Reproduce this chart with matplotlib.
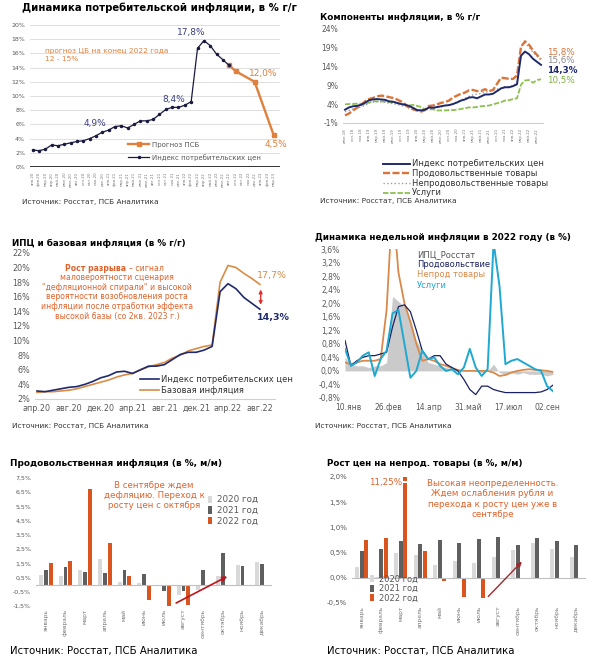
import numpy as np
import pandas as pd
import matplotlib
matplotlib.use('Agg')
import matplotlib.pyplot as plt

plt.rcParams['font.family'] = ['DejaVu Sans']

W, H = 600, 665
NAVY = '#1f2a6e'
ORANGE = '#e0803c'
RED_TXT = '#e0622a'
GRAY_TXT = '#595959'

mon = ['янв', 'фев', 'мар', 'апр', 'май', 'июн', 'июл', 'авг', 'сен', 'окт', 'ноя', 'дек']
months_full = ['январь', 'февраль', 'март', 'апрель', 'май', 'июнь', 'июль',
               'август', 'сентябрь', 'октябрь', 'ноябрь', 'декабрь']

# --- panel 1: CPI y/y with forecast (янв.20 - мар.23)
p1_labels = [f'{mon[m % 12]}.{20 + m // 12}' for m in range(39)]
p1_cpi = [2.4, 2.3, 2.5, 3.1, 3.0, 3.2, 3.4, 3.6, 3.7, 4.0, 4.4, 4.9,
          5.2, 5.7, 5.8, 5.5, 6.0, 6.5, 6.5, 6.7, 7.4, 8.1, 8.4, 8.4,
          8.7, 9.2, 16.7, 17.8, 17.1, 15.9, 15.1, 14.3]
p1_fc_months = ['авг.22', 'сен.22', 'дек.22', 'мар.23']
p1_fc = [14.3, 13.5, 12.0, 4.5]

# --- panel 2: components y/y (июл.18 - авг.22)
p2_labels = [f'{mon[(m + 6) % 12]}.{18 + (m + 6) // 12}' for m in range(50)]
p2_cpi = [2.5, 3.1, 3.4, 3.5, 3.8, 4.3,
          5.0, 5.2, 5.3, 5.2, 5.1, 4.7, 4.6, 4.3, 4.0, 3.8, 3.5, 3.0,
          2.4, 2.3, 2.5, 3.1, 3.0, 3.2, 3.4, 3.6, 3.7, 4.0, 4.4, 4.9,
          5.2, 5.7, 5.8, 5.5, 6.0, 6.5, 6.5, 6.7, 7.4, 8.1, 8.4, 8.4,
          8.7, 9.2, 16.7, 17.8, 17.1, 15.9, 15.1, 14.3]
p2_food = [1.0, 1.5, 2.3, 3.0, 3.7, 4.7,
           5.3, 5.6, 6.0, 6.2, 6.1, 5.8, 5.6, 5.2, 4.7, 4.0, 3.0, 2.6,
           2.3, 2.0, 2.4, 3.5, 3.6, 3.9, 4.3, 4.5, 4.9, 5.7, 6.2, 6.7,
           7.0, 7.6, 7.7, 7.4, 7.4, 7.9, 7.4, 7.7, 9.3, 10.9, 10.8, 10.6,
           10.6, 11.5, 19.0, 20.5, 19.6, 18.1, 16.9, 15.8]
p2_nonfood = [2.0, 2.3, 2.7, 3.0, 3.3, 3.6,
              4.3, 4.5, 4.6, 4.6, 4.5, 4.2, 4.1, 3.9, 3.6, 3.4, 3.2, 3.0,
              2.5, 2.5, 2.6, 2.9, 2.8, 3.0, 3.2, 3.6, 3.8, 4.0, 4.6, 5.0,
              5.5, 6.0, 6.4, 6.6, 6.8, 7.1, 7.3, 7.6, 7.9, 8.1, 8.6, 8.6,
              8.8, 9.5, 19.2, 20.0, 19.0, 17.6, 16.6, 15.6]
p2_serv = [3.9, 4.0, 4.0, 4.1, 4.1, 3.9,
           4.4, 4.7, 4.7, 4.7, 4.6, 4.5, 4.4, 4.2, 4.0, 3.8, 3.6, 3.8,
           3.5, 3.2, 2.6, 2.6, 2.6, 2.3, 2.3, 2.3, 2.4, 2.4, 2.5, 2.7,
           2.9, 3.1, 3.1, 3.2, 3.4, 3.5, 3.6, 3.9, 4.2, 4.5, 4.9, 5.0,
           5.3, 5.5, 9.1, 10.2, 10.3, 9.6, 10.3, 10.5]

# --- panel 3: CPI vs core (апр.20 - авг.22)
p3_labels = [f'{mon[(m + 3) % 12]}.{20 + (m + 3) // 12}' for m in range(29)]
p3_cpi = [3.1, 3.0, 3.2, 3.4, 3.6, 3.7, 4.0, 4.4, 4.9,
          5.2, 5.7, 5.8, 5.5, 6.0, 6.5, 6.5, 6.7, 7.4, 8.1, 8.4, 8.4,
          8.7, 9.2, 16.7, 17.8, 17.1, 15.9, 15.1, 14.3]
p3_core = [2.9, 3.0, 3.0, 3.1, 3.2, 3.4, 3.7, 4.0, 4.3,
           4.6, 5.0, 5.3, 5.5, 6.0, 6.4, 6.7, 7.0, 7.6, 8.0, 8.6, 8.9,
           9.2, 9.4, 18.0, 20.3, 20.0, 19.2, 18.5, 17.7]
p3_note = ['маловероятности сценария', '"дефляционной спирали" и высокой',
           'вероятности возобновления роста', 'инфляции после отработки эффекта',
           'высокой базы (со 2кв. 2023 г.)']

# --- panel 4: weekly inflation 2022
p4_dates = pd.date_range('2022-01-06', periods=36, freq='7D')
p4_cpi = [0.4, 0.2, 0.15, 0.15, 0.1, 0.15, 0.15, 0.25, 2.2, 2.05, 1.9, 1.5,
          0.9, 0.6, 0.25, 0.2, 0.15, 0.1, 0.05, 0.05, 0.0, 0.0, 0.0, -0.05,
          0.0, 0.2, -0.05, -0.1, -0.05, -0.1, -0.05, -0.1, -0.1, -0.1, -0.15, -0.1]
p4_food = [0.9, 0.15, 0.3, 0.4, 0.45, 0.45, 0.5, 0.55, 1.3, 1.9, 1.95, 1.75,
           1.2, 0.6, 0.35, 0.45, 0.45, 0.2, 0.1, 0.0, -0.25, -0.55, -0.7, -0.45,
           -0.45, -0.55, -0.6, -0.64, -0.64, -0.64, -0.64, -0.64, -0.64, -0.62, -0.55, -0.42]
p4_nonfood = [0.25, 0.2, 0.25, 0.3, 0.3, 0.3, 0.35, 1.8, 5.0, 2.9, 2.0, 1.45,
              0.8, 0.3, 0.35, 0.3, 0.2, 0.15, 0.08, 0.03, 0.0, 0.0, 0.0, 0.0,
              0.0, -0.05, -0.15, -0.12, -0.05, 0.0, 0.03, 0.05, 0.03, 0.02, 0.0, -0.03]
p4_serv = [0.65, 0.15, 0.25, 0.45, 0.55, -0.15, 0.35, 0.6, 1.7, 1.8, 0.8, -0.2,
           0.0, 0.6, 0.35, 0.4, 0.15, 0.0, 0.05, -0.1, 0.1, 0.65, 0.1, -0.15,
           0.05, 3.8, 2.5, 0.2, 0.3, 0.35, 0.25, 0.15, 0.05, 0.0, -0.45, -0.6]
p4_ticks = ['2022-01-10', '2022-02-26', '2022-04-14', '2022-05-31', '2022-07-17', '2022-09-02']
p4_ticklabels = ['10.янв', '26.фев', '14.апр', '31.май', '17.июл', '02.сен']

# --- panel 5: food m/m
p5_2020 = [0.7, 0.6, 1.0, 1.8, 0.2, 0.1, 0.0, -0.7, -0.4, 0.6, 1.4, 1.6]
p5_2021 = [1.0, 1.25, 0.9, 0.8, 1.0, 0.75, -0.45, -0.45, 1.0, 2.25, 1.3, 1.45]
p5_2022 = [1.5, 1.65, 6.7, 2.95, 0.6, -1.1, -1.5, -1.4, np.nan, np.nan, np.nan, np.nan]

# --- panel 6: non-food m/m
p6_2020 = [0.22, 0.02, 0.5, 0.45, 0.26, 0.34, 0.3, 0.42, 0.55, 0.69, 0.57, 0.41]
p6_2021 = [0.54, 0.57, 0.73, 0.67, 0.75, 0.69, 0.77, 0.81, 0.65, 0.79, 0.73, 0.65]
p6_2022 = [0.75, 0.79, 11.25, 0.53, -0.06, -0.39, -0.41, np.nan, np.nan, np.nan, np.nan, np.nan]

years = ['2020 год', '2021 год', '2022 год']
bar_colors = ['#d9d9d9', '#5f5f5f', '#d9541e']

fig = plt.figure(figsize=(6, 6.65), dpi=100)


def add_ax(l, t, r, b):
    ax = fig.add_axes([l / W, 1 - b / H, (r - l) / W, (b - t) / H])
    for s in ax.spines.values():
        s.set_visible(False)
    ax.tick_params(length=0, labelsize=5, labelcolor=GRAY_TXT)
    return ax


def pct(ax, fmt):
    ax.set_yticks(ax.get_yticks())
    ax.set_yticklabels([fmt.format(v).replace('.', ',') for v in ax.get_yticks()])


def ftext(x, y, s, **kw):
    fig.text(x / W, 1 - y / H, s, **kw)


# ================= panel 1
ax1 = add_ax(30, 25, 280, 167)
x1 = np.arange(len(p1_cpi))
fc_x = [p1_labels.index(m) for m in p1_fc_months]
ax1.set_ylim(0, 20)
ax1.set_xlim(-0.4, 39)
ax1.set_yticks(np.arange(0, 21, 2))
pct(ax1, '{:.0f}%')
ax1.tick_params(axis='y', labelsize=4.5)
ax1.grid(axis='y', color='#d9d9d9', lw=0.6)
ax1.set_axisbelow(True)
ax1.axhline(0, color='#222222', lw=1.3)
l_fc, = ax1.plot(fc_x, p1_fc, color=ORANGE, lw=1.7, marker='s', ms=2.6, label='Прогноз ПСБ')
l_cpi, = ax1.plot(x1, p1_cpi, color='#1a1a40', lw=0.9, marker='o', ms=1.5,
                  label='Индекс потребительских цен')
ax1.set_xticks(np.arange(len(p1_labels)))
ax1.set_xticklabels(p1_labels, rotation=90, fontsize=2.8, color='#777777')
ax1.legend(handles=[l_fc, l_cpi], loc='lower left', bbox_to_anchor=(0.38, 0.02),
           frameon=False, fontsize=5, handlelength=3, labelspacing=0.9, borderpad=0,
           handletextpad=0.4, labelcolor=GRAY_TXT)
for xi, yi, s, dx, dy, c in [(11, p1_cpi[11], '4,9%', -5, 6.5, '#3a3f85'),
                             (22, p1_cpi[22], '8,4%', 1, 6, '#3a3f85'),
                             (27, p1_cpi[27], '17,8%', -9, 5.5, '#3a3f85'),
                             (fc_x[2], p1_fc[2], '12,0%', 6, 6, ORANGE),
                             (fc_x[3], p1_fc[3], '4,5%', 2, -7, ORANGE)]:
    ax1.annotate(s, (xi, yi), xytext=(dx, dy), textcoords='offset points',
                 ha='center', va='center', fontsize=6.5, color=c, annotation_clip=False)
ax1.text(0.06, 0.84, 'прогноз ЦБ на конец 2022 года\n12 - 15%', transform=ax1.transAxes,
         color=ORANGE, fontsize=5.3, va='top', linespacing=1.5)
ftext(22, 8, 'Динамика потребительской инфляции, в % г/г', fontsize=7.3,
      fontweight='bold', va='center')
ftext(22, 202, 'Источник: Росстат, ПСБ Аналитика', fontsize=5.3, va='center', color='#333333')

# ================= panel 2
ax2 = add_ax(343, 28, 543, 123)
x2 = np.arange(len(p2_cpi))
ax2.set_xlim(-0.5, 49.5)
ax2.set_ylim(-1, 24)
ax2.set_yticks([-1, 4, 9, 14, 19, 24])
pct(ax2, '{:.0f}%')
ax2.tick_params(axis='y', labelsize=5.5)
ax2.spines['bottom'].set_visible(True)
ax2.spines['bottom'].set_color('#d0d0d0')
h_s, = ax2.plot(x2, p2_serv, color='#8dc050', lw=1.3, dashes=(3, 1), label='Услуги')
h_n, = ax2.plot(x2, p2_nonfood, color='#9a9a9a', lw=1.0, ls=':', label='Непродовольственные товары')
h_f, = ax2.plot(x2, p2_food, color='#d9743a', lw=1.7, dashes=(3, 1), label='Продовольственные товары')
h_c, = ax2.plot(x2, p2_cpi, color=NAVY, lw=1.4, label='Индекс потребительских цен')
ax2.set_xticks(x2[::2])
ax2.set_xticklabels(p2_labels[::2], rotation=90, fontsize=2.8, color='#777777')
for yv, s, c, wgt in [(17.6, '15,8%', '#d9743a', 'normal'), (15.5, '15,6%', '#8a8a8a', 'normal'),
                      (12.9, '14,3%', NAVY, 'bold'), (10.3, '10,5%', '#7fb040', 'normal')]:
    ax2.text(50.6, yv, s, color=c, fontsize=6.3, fontweight=wgt, va='center', clip_on=False)
ax2.legend(handles=[h_c, h_f, h_n, h_s], loc='upper left', bbox_to_anchor=(0.18, -0.34),
           frameon=False, fontsize=6, handlelength=3.2, labelspacing=0.08, borderpad=0,
           handletextpad=0.2, labelcolor='#333333')
ftext(320, 17, 'Компоненты инфляции, в % г/г', fontsize=6.4, fontweight='bold', va='center')
ftext(320, 201, 'Источник: Росстат, ПСБ Аналитика', fontsize=5.3, va='center', color='#333333')

# ================= panel 3
ax3 = add_ax(35, 253, 275, 399)
x3 = np.arange(len(p3_cpi))
ax3.set_xlim(-0.25, 29.9)
ax3.set_ylim(2, 22)
ax3.set_yticks(np.arange(2, 23, 2))
pct(ax3, '{:.0f}%')
ax3.tick_params(labelsize=5.8)
ax3.spines['bottom'].set_visible(True)
ax3.spines['bottom'].set_color('#d0d0d0')
h_core, = ax3.plot(x3, p3_core, color='#d98c45', lw=1.2, label='Базовая инфляция')
h_cpi3, = ax3.plot(x3, p3_cpi, color=NAVY, lw=1.2, label='Индекс потребительских цен')
ax3.set_xticks(x3[::4])
ax3.set_xticklabels(p3_labels[::4])
ax3.text(27.6, 18.9, '17,7%', color='#d98c45', fontsize=6.8, va='center')
ax3.text(27.6, 13.1, '14,3%', color=NAVY, fontsize=6.8, fontweight='bold', va='center')
ax3.annotate('', xy=(28.1, 17.0), xytext=(28.1, 14.9),
             arrowprops=dict(arrowstyle='<|-|>', color='#e03030', lw=1, mutation_scale=5,
                             shrinkA=0, shrinkB=0))
ax3.text(0.38, 0.897, 'Рост разрыва', transform=ax3.transAxes, ha='right', va='center',
         fontsize=5.6, fontweight='bold', color=RED_TXT)
ax3.text(0.39, 0.897, '– сигнал', transform=ax3.transAxes, ha='left', va='center',
         fontsize=5.6, color=RED_TXT)
for k, line in enumerate(p3_note):
    ax3.text(0.342, 0.832 - k * 0.066, line, transform=ax3.transAxes, ha='center',
             va='center', fontsize=5.6, color=RED_TXT)
ax3.legend(handles=[h_cpi3, h_core], loc='lower left', bbox_to_anchor=(0.42, 0.0),
           frameon=False, fontsize=6, handlelength=2.3, labelspacing=0.25, borderpad=0,
           handletextpad=0.2, labelcolor='#333333')
ftext(12, 243, 'ИПЦ и базовая инфляция (в % г/г)', fontsize=6.3, fontweight='bold', va='center')
ftext(12, 426, 'Источник: Росстат, ПСБ Аналитика', fontsize=5.3, va='center', color='#333333')

# ================= panel 4
ax4 = add_ax(345, 249, 553, 398)
ax4.fill_between(p4_dates, 0, p4_cpi, color='#cacaca', lw=0)
ax4.plot(p4_dates, p4_nonfood, color='#d98a4a', lw=1.3)
ax4.plot(p4_dates, p4_food, color='#1a2060', lw=0.9)
ax4.plot(p4_dates, p4_serv, color='#1fa8d0', lw=1.4)
ax4.set_xlim(pd.Timestamp('2022-01-06'), pd.Timestamp('2022-09-08'))
ax4.set_ylim(-0.8, 3.6)
ax4.set_yticks(np.round(np.arange(-0.8, 3.61, 0.4), 1))
pct(ax4, '{:.1f}%')
ax4.tick_params(labelsize=5.5)
ax4.set_xticks(pd.to_datetime(p4_ticks))
ax4.set_xticklabels(p4_ticklabels)
for yy, s, c in [(0.96, 'ИПЦ_Росстат', '#555555'), (0.893, 'Продовольствие', '#1a2060'),
                 (0.826, 'Непрод товары', '#d98a4a'), (0.758, 'Услуги', '#1fa8d0')]:
    ax4.text(0.346, yy, s, transform=ax4.transAxes, color=c, fontsize=6, va='center')
ftext(315, 238, 'Динамика недельной инфляции в 2022 году (в %)', fontsize=6.3,
      fontweight='bold', va='center')
ftext(315, 426, 'Источник: Росстат, ПСБ Аналитика', fontsize=5.3, va='center', color='#333333')


# ================= panels 5 and 6 (bars)
def bars(ax, series, ylim, ystep):
    x = np.arange(12)
    handles = []
    for k, (vals, lab, col) in enumerate(zip(series, years, bar_colors)):
        b = ax.bar(x + (k - 1) * 0.24, vals, width=0.2, color=col, label=lab)
        handles.append(b)
    ax.set_xlim(-0.5, 11.5)
    ax.set_ylim(*ylim)
    ax.set_yticks(np.round(np.arange(ylim[0], ylim[1] + 0.01, ystep), 2))
    pct(ax, '{:.1f}%')
    ax.axhline(0, color='#c0c0c0', lw=0.8)
    ax.set_xticks(x)
    ax.set_xticklabels(months_full, rotation=90, fontsize=4.3, color='#777777')
    ax.tick_params(axis='x', pad=2)
    return handles


ax5 = add_ax(36, 478, 272, 606)
bars(ax5, [p5_2020, p5_2021, p5_2022], (-1.5, 7.5), 1.0)
ax5.tick_params(axis='y', labelsize=4.5)
ax5.legend(loc='upper left', bbox_to_anchor=(0.71, 0.9), frameon=False, fontsize=6.3,
           handlelength=0.5, handleheight=0.9, labelspacing=0.2, borderpad=0,
           handletextpad=0.5, labelcolor=GRAY_TXT)
ax5.text(0.5, 0.86, 'В сентябре ждем\nдефляцию. Переход к\nросту цен с октября',
         transform=ax5.transAxes, ha='center', va='center', fontsize=6.2,
         color=RED_TXT, linespacing=1.15)
ax5.annotate('', xy=(9.35, 0.67), xytext=(6.5, -1.38),
             arrowprops=dict(arrowstyle='-|>', color='#c0141c', lw=1.2, mutation_scale=7))
ftext(10, 463, 'Продовольственная инфляция (в %, м/м)', fontsize=6.4, fontweight='bold', va='center')
ftext(10, 651, 'Источник: Росстат, ПСБ Аналитика', fontsize=7.3, va='center')

ax6 = add_ax(352, 477, 586, 603)
h6 = bars(ax6, [p6_2020, p6_2021, p6_2022], (-0.5, 2.0), 0.5)
ax6.tick_params(axis='y', labelsize=5)
big = h6[2][months_full.index('март')]
bx, bw = big.get_x(), big.get_width()
ax6.plot([bx - 0.02, bx + bw + 0.02], [1.9, 1.9], color='white', lw=1.5)
ax6.text(bx - 0.08, 1.9, '11,25%', ha='right', va='center', fontsize=6.3, color=RED_TXT)
ax6.legend(loc='lower left', bbox_to_anchor=(0.06, -0.03), frameon=False, fontsize=6,
           handlelength=0.5, handleheight=0.9, labelspacing=0.05, borderpad=0,
           handletextpad=0.5, labelcolor=GRAY_TXT)
ax6.text(0.6, 0.824, 'Высокая неопределенность.\nЖдем ослабления рубля и\n'
         'перехода к росту цен уже в\nсентябре', transform=ax6.transAxes, ha='center',
         va='center', fontsize=6.3, color=RED_TXT, linespacing=1.2)
ax6.annotate('', xy=(8.31, 0.36), xytext=(6.39, -0.41),
             arrowprops=dict(arrowstyle='-|>', color='#a0282d', lw=1.0, mutation_scale=7))
ftext(327, 463, 'Рост цен на непрод. товары (в %, м/м)', fontsize=6.3, fontweight='bold', va='center')
ftext(327, 651, 'Источник: Росстат, ПСБ Аналитика', fontsize=7.3, va='center')

fig.savefig('out.png', dpi=100)
